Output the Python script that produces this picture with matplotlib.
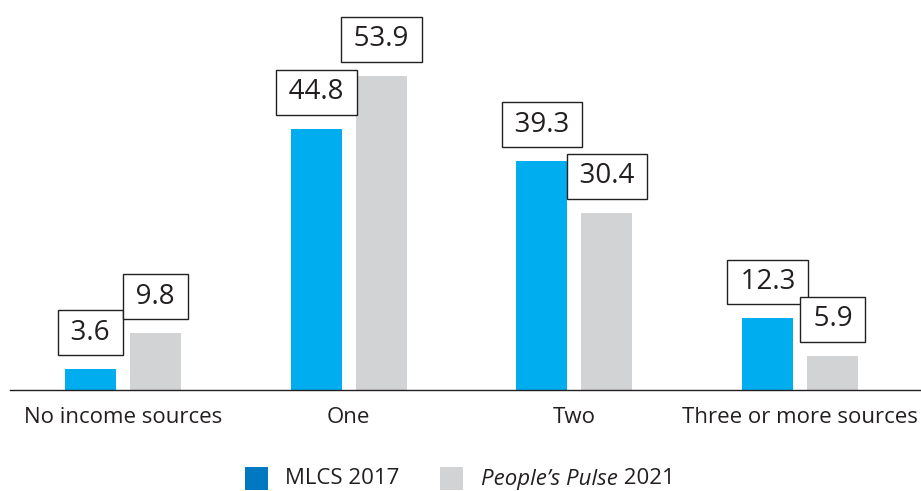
import matplotlib.pyplot as plt
from matplotlib.patches import Rectangle
import numpy as np

# data
categories = ['No income sources', 'One', 'Two', 'Three or more sources']
mlcs_2017 = [3.6, 44.8, 39.3, 12.3]
pulse_2021 = [9.8, 53.9, 30.4, 5.9]

plt.rcParams['font.family'] = ['Open Sans', 'DejaVu Sans']
TEXT = '#231F20'
BLUE = '#00AEEF'
BLUE_LEG = '#0079C1'
GRAY = '#D1D3D4'

W, H = 921, 491
fig = plt.figure(figsize=(W / 100, H / 100), dpi=100)
ax = fig.add_axes([10 / W, 101 / H, 911 / W, 350 / H])

x = np.arange(len(categories))
off = 0.144
bw = 0.226
b1 = ax.bar(x - off, mlcs_2017, bw, color=BLUE)
b2 = ax.bar(x + off, pulse_2021, bw, color=GRAY)

# value labels in outlined boxes
for bars, vals in [(b1, mlcs_2017), (b2, pulse_2021)]:
    for rect, v in zip(bars, vals):
        ax.annotate(f'\u2009{v:.1f}\u2009', (rect.get_x() + rect.get_width() / 2, v),
                    xytext=(0, 16), textcoords='offset points',
                    ha='center', va='bottom', fontsize=20, color=TEXT,
                    annotation_clip=False,
                    bbox=dict(boxstyle='square,pad=0.3', fc='white', ec=TEXT, lw=1))

ax.set_xlim(-0.5, 3.535)
ax.set_ylim(0, 60)
ax.set_xticks(x)
ax.set_xticklabels(categories, fontsize=16, color=TEXT)
ax.tick_params(axis='x', length=0, pad=12)
ax.set_yticks([])
for s in ['top', 'right', 'left']:
    ax.spines[s].set_visible(False)
ax.spines['bottom'].set_color(TEXT)
ax.spines['bottom'].set_linewidth(1)

# legend drawn by hand so that only part of the second label is italic
fig.patches.append(Rectangle((245 / W, 1 / H), 23 / W, 23 / H, transform=fig.transFigure, fc=BLUE_LEG, ec='none'))
fig.patches.append(Rectangle((440 / W, 1 / H), 23 / W, 23 / H, transform=fig.transFigure, fc=GRAY, ec='none'))
fig.text(285 / W, 12 / H, 'MLCS 2017', fontsize=16, color=TEXT, va='center')
t_it = fig.text(481 / W, 12 / H, 'People’s Pulse', fontsize=16, style='italic', color=TEXT, va='center')
fig.canvas.draw()
bb = t_it.get_window_extent()
fig.text(bb.x1 / W, 12 / H, ' 2021', fontsize=16, color=TEXT, va='center')

fig.savefig('out.png', dpi=100)
